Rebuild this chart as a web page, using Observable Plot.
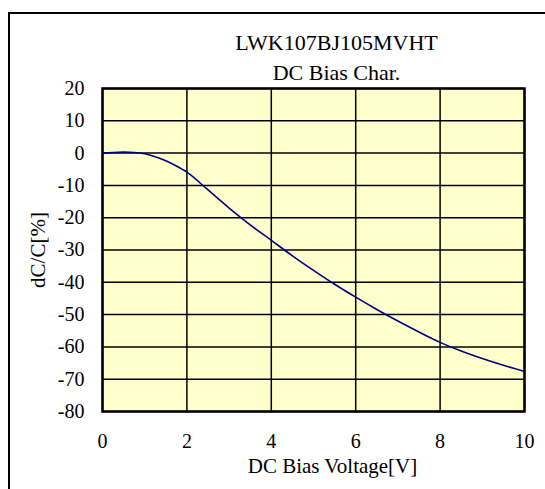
<!DOCTYPE html>
<html>
<head>
<meta charset="utf-8">
<script src="https://cdn.jsdelivr.net/npm/d3@7"></script>
<script src="https://cdn.jsdelivr.net/npm/@observablehq/plot@0.6"></script>
<style>
  html, body { margin: 0; padding: 0; background: #fff; overflow: hidden; }
  #wrap { position: relative; width: 545px; height: 489px; overflow: hidden; }
  #border { position: absolute; left: 8px; top: 12px; width: 600px; height: 600px; border: 2px solid #000; box-sizing: border-box; pointer-events: none; }
  #chart { position: absolute; left: 0; top: 0; }
  #chart svg, #chart svg text { font-family: 'Liberation Serif', 'Times New Roman', serif !important; }
</style>
</head>
<body>
<div id="wrap"><div id="chart"></div><div id="border"></div></div>
<script>
const titleLines = ["LWK107BJ105MVHT", "DC Bias Char."];
const xLabel = "DC Bias Voltage[V]";
const yLabel = "dC/C[%]";
const xTicks = [0, 2, 4, 6, 8, 10];
const yTicks = [20, 10, 0, -10, -20, -30, -40, -50, -60, -70, -80];
const voltage = [0, 0.25, 0.5, 0.75, 1.0, 1.25, 1.5, 1.75, 2.0, 2.5, 3.0, 3.5, 4.0, 4.5, 5.0, 5.5, 6.0, 6.5, 7.0, 7.5, 8.0, 8.5, 9.0, 9.5, 10.0];
const dcdc = [0, 0.2, 0.3, 0.2, -0.2, -1.1, -2.4, -4.0, -5.9, -11.4, -17.0, -22.2, -27.0, -31.8, -36.3, -40.6, -44.6, -48.4, -52.0, -55.4, -58.6, -61.3, -63.6, -65.7, -67.6];

const data = voltage.map((v, i) => ({v, c: dcdc[i]}));
const font = "'Liberation Serif', 'Times New Roman', serif";

const chart = Plot.plot({
  width: 545,
  height: 489,
  marginLeft: 102,
  marginRight: 21,
  marginTop: 88,
  marginBottom: 78,
  style: {fontFamily: font, fontSize: "20px", background: "transparent", color: "#000"},
  x: {domain: [0, 10], ticks: xTicks},
  y: {domain: [-80, 20], ticks: yTicks},
  marks: [
    Plot.frame({fill: "#ffffcc", stroke: null}),
    Plot.gridX(xTicks, {stroke: "#000", strokeOpacity: 1, strokeWidth: 1.5}),
    Plot.gridY(yTicks, {stroke: "#000", strokeOpacity: 1, strokeWidth: 1.5}),
    Plot.line(data, {x: "v", y: "c", stroke: "#000080", strokeWidth: 1.6, curve: "monotone-x"}),
    Plot.frame({stroke: "#000", strokeWidth: 2.5}),
    Plot.axisX(xTicks, {tickSize: 0, tickPadding: 22, label: null, fontSize: 20, tickFormat: d => String(d)}),
    Plot.axisY(yTicks, {tickSize: 0, tickPadding: 18, label: null, fontSize: 20, tickFormat: d => String(d)}),
    Plot.text([titleLines[0]], {frameAnchor: "top", lineAnchor: "middle", dx: 23, dy: -46, fontSize: 22, textAnchor: "middle"}),
    Plot.text([titleLines[1]], {frameAnchor: "top", lineAnchor: "middle", dx: 23, dy: -16, fontSize: 22, textAnchor: "middle"}),
    Plot.text([xLabel], {frameAnchor: "bottom", lineAnchor: "middle", dx: 19, dy: 55, fontSize: 21, textAnchor: "middle"}),
    Plot.text([yLabel], {frameAnchor: "left", lineAnchor: "middle", dx: -64, rotate: -90, fontSize: 21, textAnchor: "middle"})
  ]
});
document.getElementById("chart").appendChild(chart);
</script>
</body>
</html>
